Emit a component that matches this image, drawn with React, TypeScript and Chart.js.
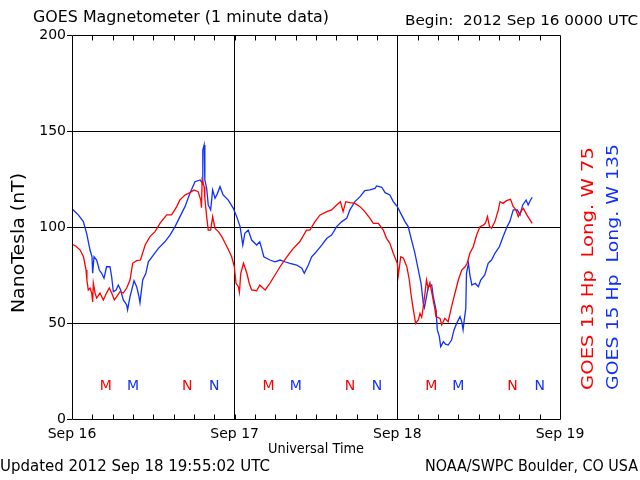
import { useEffect, useRef } from "react";
import { Chart, registerables } from "chart.js";

Chart.register(...registerables);

const FONT = "DejaVu Sans";
const RED = "#ff0000";
const BLUE = "#1030ff";

const dayLabels = ["Sep 16", "Sep 17", "Sep 18", "Sep 19"];
const dayTickHours = [0, 24, 48, 72];
const minorTickStep = 3;

// GOES 13 (hours since 2012 Sep 16 0000 UTC, nT)
const goes13Hours = [
  0.0, 0.6, 1.2, 1.7, 2.07, 2.2, 2.4, 2.66, 2.9, 3.05, 3.15, 3.4, 3.64, 4.13, 4.62, 5.1, 5.5, 5.85, 6.25, 6.6,
  7.08, 7.57, 8.07, 8.56, 8.95, 9.54, 10.1, 10.8, 11.5, 12.25, 13.0, 13.97, 14.7, 15.45, 15.9, 16.67, 17.4, 18.0,
  18.6, 19.0, 19.1, 19.2, 19.5, 19.6, 19.87, 20.1, 20.46, 20.75, 21.1, 21.6, 22.1, 22.6, 23.1, 23.56, 23.95,
  24.2, 24.54, 24.7, 24.9, 25.3, 25.8, 26.15, 26.5, 27.25, 27.7, 28.5, 29.2, 29.95, 30.7, 31.7, 32.65, 33.6,
  34.6, 35.1, 35.85, 36.6, 37.6, 38.3, 39.05, 39.6, 40.0, 40.4, 41.0, 41.75, 42.5, 43.2, 43.97, 44.45, 45.2,
  45.93, 46.4, 46.9, 47.4, 47.8, 48.0, 48.15, 48.5, 48.9, 49.4, 49.77, 50.0, 50.36, 50.7, 51.1, 51.34, 51.6,
  51.83, 52.08, 52.3, 52.55, 52.8, 53.2, 53.56, 53.7, 54.3, 54.55, 55.0, 55.5, 56.0, 56.5, 57.0, 57.5, 58.0,
  58.3, 58.7, 59.2, 59.7, 60.2, 60.7, 61.0, 61.3, 61.6, 61.9, 62.4, 62.9, 63.15, 63.6, 64.1, 64.7, 65.1, 65.5,
  65.85, 66.2, 66.6, 67.1, 67.6, 67.9,
];
const goes13Values = [
  91, 90, 88, 84.5, 77.6, 72.4, 67.2, 68.2, 65.6, 61, 70.8, 65.6, 63, 65.6, 62, 65.6, 68.2, 65.6, 62, 63.7,
  66.3, 65.6, 68.2, 72.4, 81.1, 82.5, 82.8, 90.6, 95, 97.6, 102, 106.3, 106.3, 110.6, 114, 116.7, 117.9, 119.3,
  118.4, 114, 110, 124.5, 121, 115, 105.4, 98.4, 98.4, 105.4, 99.3, 97.6, 95, 91.5, 88, 84.5, 79.3,
  70.7, 68.9, 66, 75.9, 81.1, 75.9, 70.7, 67.2, 66.8, 69.8, 67.2, 70.7, 75, 79.3, 84.5, 88.9, 92.3,
  98.4, 98.4, 102.8, 106.3, 108, 108.9, 111.5, 113.2, 108, 113.2, 112.7, 112.3, 110.6, 108, 104.5, 101.9, 101.9,
  98.4, 94.1, 91.5, 86.3, 82.8, 81, 75, 84.5, 83.7, 79.3, 72.4, 65.5, 56.8, 49.8, 51.6, 55, 53,
  58.5, 65.5, 72.4, 68, 71, 63.7, 56.8, 53.3, 52.4, 49, 52.4, 50.7, 58.5, 65.5, 72.4, 77.6, 79.3,
  81.1, 86.3, 89.7, 95.8, 100.2, 101, 102, 105.4, 100.2, 99.3, 102.8, 108.9, 113.2, 112.3, 113.7, 114.4, 110.6, 108.9,
  105.4, 108, 109.7, 106.3, 103.6, 101.9,
];

// GOES 15 (hours since 2012 Sep 16 0000 UTC, nT)
const goes15Hours = [
  0.0, 0.93, 1.67, 2.16, 2.66, 2.95, 3.05, 3.25, 3.64, 4.03, 4.38, 4.72, 5.1, 5.6, 5.85, 6.1, 6.5, 6.83, 7.18,
  7.57, 8.07, 8.2, 8.56, 9.15, 9.54, 9.88, 10.03, 10.43, 10.9, 11.26, 12.0, 12.74, 13.7, 14.46, 15.2, 15.93,
  16.67, 17.4, 18.15, 18.9, 19.2, 19.3, 19.5, 19.6, 19.87, 20.1, 20.46, 20.75, 21.1, 21.4, 21.84, 22.3, 23.06,
  23.8, 24.3, 24.8, 25.2, 25.5, 26.0, 26.5, 27.25, 27.7, 27.98, 28.3, 29.2, 29.95, 30.7, 31.4, 32.16, 33.15,
  33.9, 34.27, 34.87, 35.36, 35.85, 36.84, 37.6, 38.3, 39.05, 39.8, 40.53, 41.0, 41.75, 42.5, 43.2, 43.97,
  44.7, 44.95, 45.7, 46.2, 46.9, 47.4, 48.0, 48.5, 49.13, 49.6, 50.1, 50.6, 51.1, 51.5, 51.83, 52.0, 52.3,
  52.57, 53.07, 53.3, 53.7, 53.9, 54.2, 54.4, 54.8, 55.1, 55.5, 56.0, 56.36, 56.75, 57.25, 57.5, 57.7, 57.85,
  58.1, 58.2, 58.5, 58.7, 59.0, 59.5, 59.95, 60.3, 60.9, 61.4, 61.9, 62.4, 63.05, 63.6, 64.2, 64.6, 65.1,
  65.7, 66.1, 66.5, 67.0, 67.3, 67.6, 67.9,
];
const goes15Values = [
  109.5, 106.3, 102.8, 96.7, 88, 84.5, 75.9, 84.5, 82.8, 77.6, 75.9, 73.3, 79.3, 79.3, 74.1, 66.3, 67.2, 69.8, 67.2,
  62, 59.4, 56.8, 63.7, 72, 68.9, 63.7, 60.6, 72.4, 75.9, 81.9, 85.4, 88.9, 92.3, 95.8, 100.2, 105.4,
  110.6, 117.6, 123.6, 124.5, 123, 140, 142.7, 124.5, 120.1, 111.5, 108.9, 119.3, 115, 117, 121, 116.7, 114,
  109.7, 105.4, 100.2, 90.6, 96.7, 98.4, 93.2, 90.6, 92.3, 88.9, 84.5, 82.8, 81.9, 82.8, 81.9, 81.1, 80.2,
  78.5, 75.9, 80.2, 84.5, 86.3, 90.6, 94.1, 95.8, 100.2, 102.8, 104.5, 108.9, 113.2, 115.8, 118.9, 119.3,
  120.1, 121.4, 120.7, 117.9, 116.7, 113.2, 110.6, 107.1, 102.8, 100.2, 93.2, 86.3, 77.6, 70.7, 60.2, 58, 63.7,
  68.9, 69.8, 63.7, 56.8, 46.4, 42.9, 37.7, 40.3, 39, 38.5, 41.1, 46.4, 49.8, 53.3, 50.7, 46.4, 51,
  57.6, 75.9, 81.1, 75, 69.8, 70.7, 68.9, 72.4, 75, 81.1, 82.8, 86.3, 89.7, 94.9, 100.2, 102.8, 108.9,
  108.9, 106.3, 111.5, 114, 111.5, 113.7, 115.5,
];

// Local midnight (M) and noon (N) markers
const markerLevel = 17;
const goes13MidnightHours = [5, 29, 53];
const goes13NoonHours = [17, 41, 65];
const goes15MidnightHours = [9, 33, 57];
const goes15NoonHours = [21, 45, 69];

const titleText = "GOES Magnetometer (1 minute data)";
const beginText = "Begin:  2012 Sep 16 0000 UTC";
const xAxisTitle = "Universal Time";
const yAxisTitle = "NanoTesla (nT)";
const updatedText = "Updated 2012 Sep 18 19:55:02 UTC";
const creditText = "NOAA/SWPC Boulder, CO USA";
const goes13Label = "GOES 13 Hp  Long. W 75";
const goes15Label = "GOES 15 Hp  Long. W 135";

function drawText(
  ctx: CanvasRenderingContext2D,
  text: string,
  x: number,
  y: number,
  size: number,
  color: string,
  align: CanvasTextAlign,
  width?: number,
  rotate?: number
) {
  ctx.save();
  ctx.font = `${size}px "${FONT}"`;
  ctx.fillStyle = color;
  ctx.textBaseline = "middle";
  ctx.textAlign = align;
  ctx.translate(x, y);
  if (rotate) ctx.rotate(rotate);
  if (width) {
    const m = ctx.measureText(text).width;
    if (m > 0) ctx.scale(width / m, 1);
  }
  ctx.fillText(text, 0, 0);
  ctx.restore();
}

const decorPlugin = {
  id: "decor",
  afterDraw(chart: any) {
    const { ctx, chartArea: a, scales } = chart;
    const xs = scales.x;
    const ys = scales.y;
    ctx.save();
    ctx.strokeStyle = "#000";
    ctx.lineWidth = 1;
    const L = Math.round(a.left) + 0.5;
    const R = Math.round(a.right) + 0.5;
    const T = Math.round(a.top) + 0.5;
    const B = Math.round(a.bottom) + 0.5;
    ctx.beginPath();
    ctx.rect(L, T, R - L, B - T);
    ctx.stroke();
    // inward minor ticks every 3 hours
    ctx.beginPath();
    for (let h = minorTickStep; h < 72; h += minorTickStep) {
      const px = Math.round(xs.getPixelForValue(h)) + 0.5;
      ctx.moveTo(px, T);
      ctx.lineTo(px, T + 5);
      ctx.moveTo(px, B);
      ctx.lineTo(px, B - 5);
    }
    ctx.stroke();
    ctx.restore();

    // M / N markers
    const my = ys.getPixelForValue(markerLevel);
    const mark = (hours: number[], letter: string, color: string) => {
      hours.forEach((h) => drawText(ctx, letter, xs.getPixelForValue(h), my, 14, color, "center"));
    };
    mark(goes13MidnightHours, "M", RED);
    mark(goes13NoonHours, "N", RED);
    mark(goes15MidnightHours, "M", BLUE);
    mark(goes15NoonHours, "N", BLUE);

    // texts
    drawText(ctx, titleText, 33, 18, 16, "#000", "left", 296);
    drawText(ctx, beginText, 638, 21, 14, "#000", "right", 233);
    drawText(ctx, xAxisTitle, (a.left + a.right) / 2, 449, 14, "#000", "center", 96);
    drawText(ctx, updatedText, 0, 467, 15, "#000", "left", 270);
    drawText(ctx, creditText, 638, 467, 15, "#000", "right", 213);
    drawText(ctx, yAxisTitle, 20, 243, 17, "#000", "center", 140, -Math.PI / 2);
    drawText(ctx, goes13Label, 589, 390, 16, RED, "left", 243, -Math.PI / 2);
    drawText(ctx, goes15Label, 614, 390, 16, BLUE, "left", 246, -Math.PI / 2);
  },
};

export default function App() {
  const ref = useRef<HTMLCanvasElement>(null);
  useEffect(() => {
    if (!ref.current) return;
    const chart = new Chart(ref.current, {
      type: "line",
      data: {
        datasets: [
          {
            label: "GOES 13",
            data: goes13Hours.map((h, i) => ({ x: h, y: goes13Values[i] })),
            borderColor: RED,
            borderWidth: 1.3,
            pointRadius: 0,
            tension: 0,
          },
          {
            label: "GOES 15",
            data: goes15Hours.map((h, i) => ({ x: h, y: goes15Values[i] })),
            borderColor: BLUE,
            borderWidth: 1.3,
            pointRadius: 0,
            tension: 0,
          },
        ],
      },
      options: {
        animation: false,
        responsive: false,
        maintainAspectRatio: false,
        layout: { padding: { left: 0, right: 80, top: 35, bottom: 0 } },
        plugins: { legend: { display: false }, tooltip: { enabled: false } },
        scales: {
          x: {
            type: "linear",
            min: 0,
            max: 72,
            afterBuildTicks: (s: any) => {
              s.ticks = dayTickHours.map((v) => ({ value: v }));
            },
            afterFit: (s: any) => {
              s.height = 61;
            },
            ticks: {
              autoSkip: false,
              maxRotation: 0,
              padding: 7,
              color: "#000",
              font: { family: FONT, size: 14 },
              callback: (v: any) => dayLabels[Math.round(Number(v) / 24)] ?? "",
            },
            grid: {
              drawTicks: false,
              lineWidth: 1,
              color: (c: any) =>
                c.tick && (c.tick.value === 24 || c.tick.value === 48) ? "#000" : "rgba(0,0,0,0)",
            },
            border: { display: false },
          },
          y: {
            min: 0,
            max: 200,
            afterFit: (s: any) => {
              s.width = 72;
            },
            ticks: {
              stepSize: 50,
              padding: 1,
              color: "#000",
              font: { family: FONT, size: 14 },
            },
            grid: {
              drawTicks: true,
              tickLength: 5,
              tickColor: "#000",
              lineWidth: 1,
              color: (c: any) =>
                c.tick && c.tick.value > 0 && c.tick.value < 200 ? "#000" : "rgba(0,0,0,0)",
            },
            border: { display: false },
          },
        },
      },
      plugins: [decorPlugin],
    });
    return () => chart.destroy();
  }, []);
  return (
    <div style={{ position: "absolute", left: 0, top: 0, width: 640, height: 480, background: "#fff" }}>
      <canvas ref={ref} width={640} height={480} style={{ display: "block" }} />
    </div>
  );
}
